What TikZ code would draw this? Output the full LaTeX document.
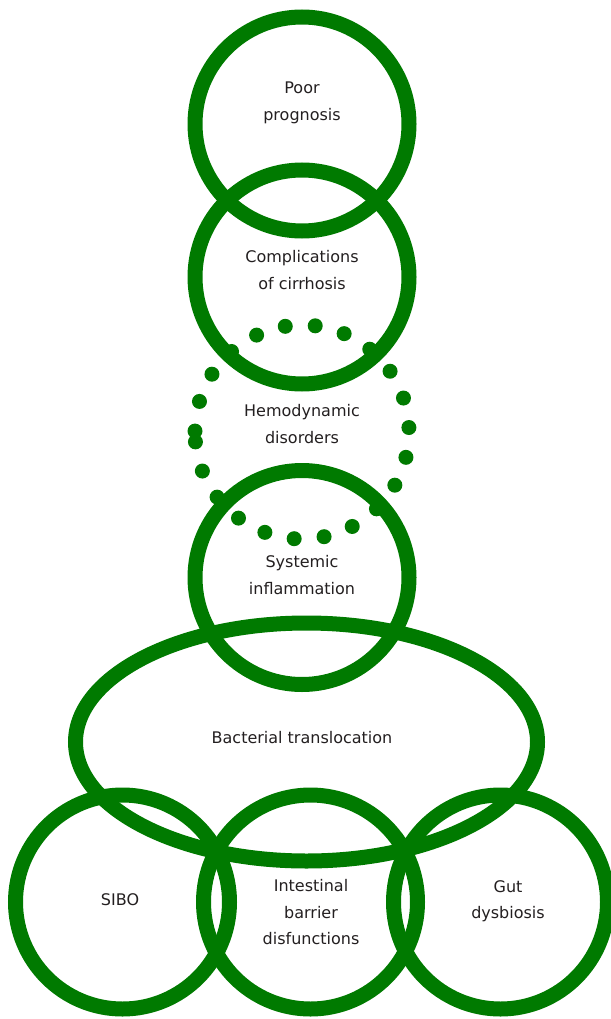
\documentclass[tikz,border=0pt]{standalone}
\usepackage{fontspec}
\setmainfont{DejaVu Sans}
\definecolor{ringgreen}{RGB}{0,122,0}
\definecolor{txtcol}{RGB}{35,31,32}
\begin{document}
\begin{tikzpicture}[x=1pt,y=-1pt,
  ring/.style={draw=ringgreen, line width=15pt},
  lbl/.style={text=txtcol, font=\fontsize{16}{27}\selectfont, inner sep=0pt, anchor=base}]
\useasboundingbox (0,0) rectangle (610,1019);
% circles of the upper chain
\coordinate (c1) at (302,124);
\coordinate (c2) at (302,277);
\coordinate (hc) at (302,432);
\coordinate (c3) at (302,577.5);
\coordinate (ce) at (306.5,742);
\coordinate (b1) at (122.5,902);
\coordinate (b2) at (310.5,902);
\coordinate (b3) at (500.5,902);
\draw[ring] (c1) circle (107pt);
\draw[ring] (c2) circle (107pt);
\draw[ring] (c3) circle (107pt);
\draw[ring] (ce) ellipse [x radius=231pt, y radius=119pt];
\draw[ring] (b1) circle (107pt);
\draw[ring] (b2) circle (107pt);
\draw[ring] (b3) circle (107pt);
% dotted circle
\foreach \k in {0,...,22}{
  \pgfmathsetmacro{\a}{185.3+16.1*\k}
  \fill[ringgreen] ([shift={(\a:107pt)}]hc) circle (7.5pt);
}
% labels
\node[lbl] (t1a) at (302,94) {Poor};
\node[lbl] (t1b) at (302,121) {prognosis};
\node[lbl] (t2a) at (302,262) {Complications};
\node[lbl] (t2b) at (302,289) {of cirrhosis};
\node[lbl] (t3a) at (302,416) {Hemodynamic};
\node[lbl] (t3b) at (302,443) {disorders};
\node[lbl] (t4a) at (302,567) {Systemic};
\node[lbl] (t4b) at (302,594) {inflammation};
\node[lbl] (t5) at (302,743) {Bacterial translocation};
\node[lbl] (t6) at (120,905) {SIBO};
\node[lbl] (t7a) at (311,891.5) {Intestinal};
\node[lbl] (t7b) at (311,918) {barrier};
\node[lbl] (t7c) at (311,944.5) {disfunctions};
\node[lbl] (t8a) at (508,892) {Gut};
\node[lbl] (t8b) at (508,918.5) {dysbiosis};
\end{tikzpicture}
\end{document}
